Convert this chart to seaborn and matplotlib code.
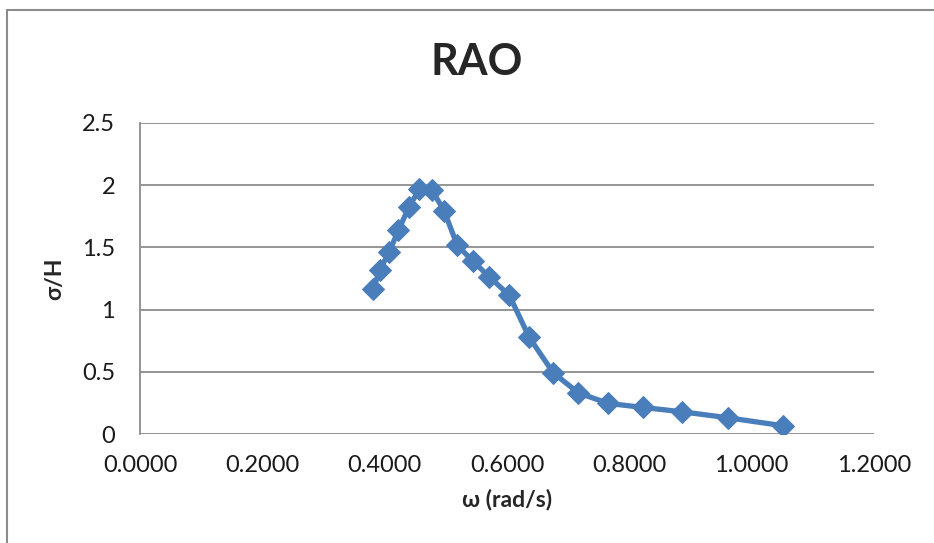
import matplotlib
matplotlib.use("Agg")
import matplotlib.pyplot as plt
import seaborn as sns
import pandas as pd
from matplotlib.patches import Rectangle

# values
omega = [0.3814, 0.3924, 0.4076, 0.4223, 0.4398, 0.4566, 0.4769, 0.4970,
         0.5187, 0.5439, 0.5711, 0.6038, 0.6365, 0.6757, 0.7166, 0.7656,
         0.8218, 0.8856, 0.9608, 1.0507]
rao = [1.169, 1.322, 1.463, 1.637, 1.823, 1.968, 1.963, 1.796,
       1.517, 1.392, 1.263, 1.115, 0.776, 0.492, 0.331, 0.246,
       0.214, 0.179, 0.131, 0.067]
x_ticks = [0.0, 0.2, 0.4, 0.6, 0.8, 1.0, 1.2]
y_ticks = [0, 0.5, 1, 1.5, 2, 2.5]
y_tick_labels = ["0", "0.5", "1", "1.5", "2", "2.5"]

df = pd.DataFrame({"omega": omega, "rao": rao})

sns.set_style("white")
plt.rcParams["font.family"] = ["Lato", "DejaVu Sans"]

fig = plt.figure(figsize=(9.34, 5.43), dpi=100)
ax = fig.add_axes([0.1499, 0.2007, 0.7858, 0.5728])

# outer chart-area border (only left and top visible in the crop)
fig.patches.append(Rectangle((7 / 934, -0.1), 1.2, 1 - 10 / 543 + 0.1,
                             transform=fig.transFigure, fill=False,
                             edgecolor="#8c8c8c", linewidth=1.5))

sns.lineplot(data=df, x="omega", y="rao", ax=ax, color="#4A7EBB",
             linewidth=3.8, marker="D", markersize=11,
             markeredgecolor="#4A7EBB", sort=False)

ax.set_xlim(0, 1.2)
ax.set_ylim(0, 2.5)
ax.set_xticks(x_ticks)
ax.set_xticklabels([f"{v:.4f}" for v in x_ticks])
ax.set_yticks(y_ticks)
ax.set_yticklabels(y_tick_labels)
ax.tick_params(axis="both", length=0, labelsize=17, colors="#1a1a1a")
ax.tick_params(axis="x", pad=15)
ax.tick_params(axis="y", pad=18)

ax.grid(axis="y", color="#8c8c8c", linewidth=1.3)
ax.grid(axis="x", visible=False)
for side in ["top", "right", "bottom"]:
    ax.spines[side].set_visible(False)
ax.spines["left"].set_color("#8c8c8c")
ax.spines["left"].set_linewidth(1.3)

ax.set_xlabel("ω (rad/s)", fontsize=16.5, fontweight="bold", labelpad=9)
ax.set_ylabel("σ/H", fontsize=16.5, fontweight="bold", labelpad=12)
fig.text(477 / 934, 1 - 62 / 543, "RAO", fontsize=31, fontweight="bold",
         ha="center", va="center")

fig.savefig("out.png", dpi=100)
